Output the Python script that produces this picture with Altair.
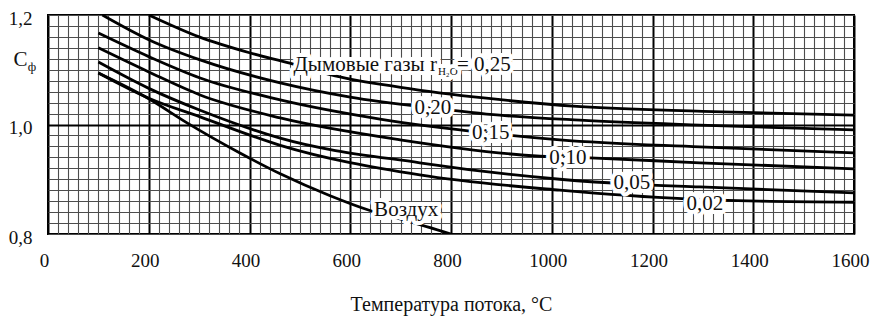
import altair as alt
import pandas as pd

# Flue-gas / air correction factor C_ф versus flow temperature
t_025 = [200, 300, 400, 480, 570, 700, 870, 1050, 1300, 1600]
c_025 = [1.200, 1.160, 1.131, 1.112, 1.089, 1.068, 1.048, 1.033, 1.024, 1.017]

t_020 = [108, 202, 302, 461, 600, 764, 897, 1056, 1294, 1600]
c_020 = [1.200, 1.154, 1.118, 1.076, 1.050, 1.030, 1.017, 1.008, 0.999, 0.990]

t_015 = [100, 200, 302, 461, 659, 879, 1016, 1294, 1600]
c_015 = [1.167, 1.124, 1.085, 1.045, 1.010, 0.984, 0.972, 0.959, 0.948]

t_010 = [100, 200, 302, 461, 699, 977, 1076, 1294, 1600]
c_010 = [1.140, 1.096, 1.054, 1.012, 0.972, 0.942, 0.939, 0.930, 0.919]

t_005 = [100, 200, 302, 461, 738, 1016, 1159, 1294, 1600]
c_005 = [1.114, 1.066, 1.026, 0.975, 0.930, 0.900, 0.891, 0.886, 0.875]

t_002 = [100, 200, 302, 461, 738, 1016, 1268, 1413, 1600]
c_002 = [1.094, 1.048, 1.014, 0.962, 0.908, 0.880, 0.864, 0.860, 0.858]

t_air = [100, 200, 276, 381, 461, 560, 639, 713, 800]
c_air = [1.094, 1.047, 1.003, 0.948, 0.910, 0.870, 0.843, 0.824, 0.800]

series = {
    "0.25": (t_025, c_025),
    "0.20": (t_020, c_020),
    "0.15": (t_015, c_015),
    "0.10": (t_010, c_010),
    "0.05": (t_005, c_005),
    "0.02": (t_002, c_002),
    "air": (t_air, c_air),
}

# Inline curve labels
label_text = ["0,20", "0;15", "0;10", "0,05", "0,02", "Воздух"]
label_t = [764, 879, 1032, 1159, 1304, 711]
label_c = [1.030, 0.984, 0.939, 0.893, 0.855, 0.844]

# Anchor of the flue-gas caption (start of the subscript)
caption_t = [772]
caption_c = [1.0974]

x_ticks = list(range(0, 1601, 20))
y_ticks = [round(0.8 + 0.02 * i, 2) for i in range(21)]

FONT = "Liberation Serif, Times New Roman, serif"
INK = "#111111"

rows = []
for name, (ts, cs) in series.items():
    for t, c in zip(ts, cs):
        rows.append({"series": name, "T": t, "C": c})
curves_df = pd.DataFrame(rows)

labels_df = pd.DataFrame({"T": label_t, "C": label_c, "text": label_text})
caption_df = pd.DataFrame({"T": caption_t, "C": caption_c})

x_scale = alt.Scale(domain=[0, 1600], nice=False, zero=False)
y_scale = alt.Scale(domain=[0.8, 1.2], nice=False, zero=False)

x_major = "datum.value % 200 === 0"
y_major = "abs(datum.value - 1) < 1e-6"
y_label = "abs(datum.value * 5 - round(datum.value * 5)) < 1e-6"

x_axis = alt.Axis(
    values=x_ticks,
    grid=True,
    gridColor={"condition": {"test": x_major, "value": "#000000"}, "value": "#4c4c4c"},
    gridWidth={"condition": {"test": x_major, "value": 2}, "value": 1.1},
    gridOpacity=1,
    ticks=False,
    domain=False,
    labelExpr=f"{x_major} ? format(datum.value, 'd') : ''",
    labelFont=FONT,
    labelFontSize=19,
    labelColor=INK,
    labelPadding=17,
    labelOverlap=False,
    labelFlush=False,
    labelOffset=-4,
    title="Температура потока, °C",
    titleFont=FONT,
    titleFontSize=20,
    titleFontWeight="normal",
    titleColor=INK,
    titlePadding=24,
)

y_axis = alt.Axis(
    values=y_ticks,
    grid=True,
    gridColor={"condition": {"test": y_major, "value": "#000000"}, "value": "#4c4c4c"},
    gridWidth={"condition": {"test": y_major, "value": 2}, "value": 1.1},
    gridOpacity=1,
    ticks=False,
    domain=False,
    labelExpr=f"{y_label} ? replace(format(datum.value, '.1f'), '.', ',') : ''",
    labelFont=FONT,
    labelFontSize=19,
    labelColor=INK,
    labelPadding=16,
    labelOverlap=False,
    labelFlush=False,
    labelOffset=3,
    title="C",
    titleAngle=0,
    titleX=-28,
    titleY=50,
    titleAlign="center",
    titleBaseline="alphabetic",
    titleFont=FONT,
    titleFontSize=21,
    titleFontWeight="normal",
    titleColor=INK,
)

X = alt.X("T:Q", scale=x_scale, axis=x_axis)
Y = alt.Y("C:Q", scale=y_scale, axis=y_axis)

curves = alt.Chart(curves_df).mark_line(
    color="black", strokeWidth=2.8, interpolate="monotone", clip=True
).encode(x=X, y=Y, detail="series:N")


def haloed(df, text_field=None, text_value=None, **mark):
    """White halo under black text, so the label masks the grid and curve."""
    enc = dict(x=X, y=Y)
    if text_field:
        enc["text"] = alt.Text(f"{text_field}:N")
    else:
        enc["text"] = alt.value(text_value)
    base = alt.Chart(df)
    halo = base.mark_text(
        font=FONT, color="white", stroke="white", strokeWidth=8,
        strokeJoin="round", **mark
    ).encode(**enc)
    ink = base.mark_text(font=FONT, color=INK, **mark).encode(**enc)
    return [halo, ink]


layers = [curves]
layers += haloed(labels_df, text_field="text", fontSize=21, baseline="middle", align="center")
layers += haloed(caption_df, text_value="Дымовые газы r", fontSize=21,
                 baseline="alphabetic", align="right")
layers += haloed(caption_df, text_value="H₂O", fontSize=11,
                 baseline="alphabetic", align="left", dx=1, dy=4)
layers += haloed(caption_df, text_value="= 0,25", fontSize=21,
                 baseline="alphabetic", align="left", dx=20)

# subscript of the y-axis symbol
phi = alt.Chart(pd.DataFrame({"s": ["ф"]})).mark_text(
    font=FONT, fontSize=13, color=INK, align="center", baseline="alphabetic"
).encode(text="s:N", x=alt.value(-16), y=alt.value(56))
layers.append(phi)

chart = alt.layer(*layers).properties(
    width=806,
    height=219,
    padding={"left": 48, "top": 15, "right": 26, "bottom": 92},
    autosize=alt.AutoSizeParams(type="none"),
    background="white",
).configure_view(stroke="black", strokeWidth=2)

chart.save("out.html", embed_options={"renderer": "svg", "actions": False})
